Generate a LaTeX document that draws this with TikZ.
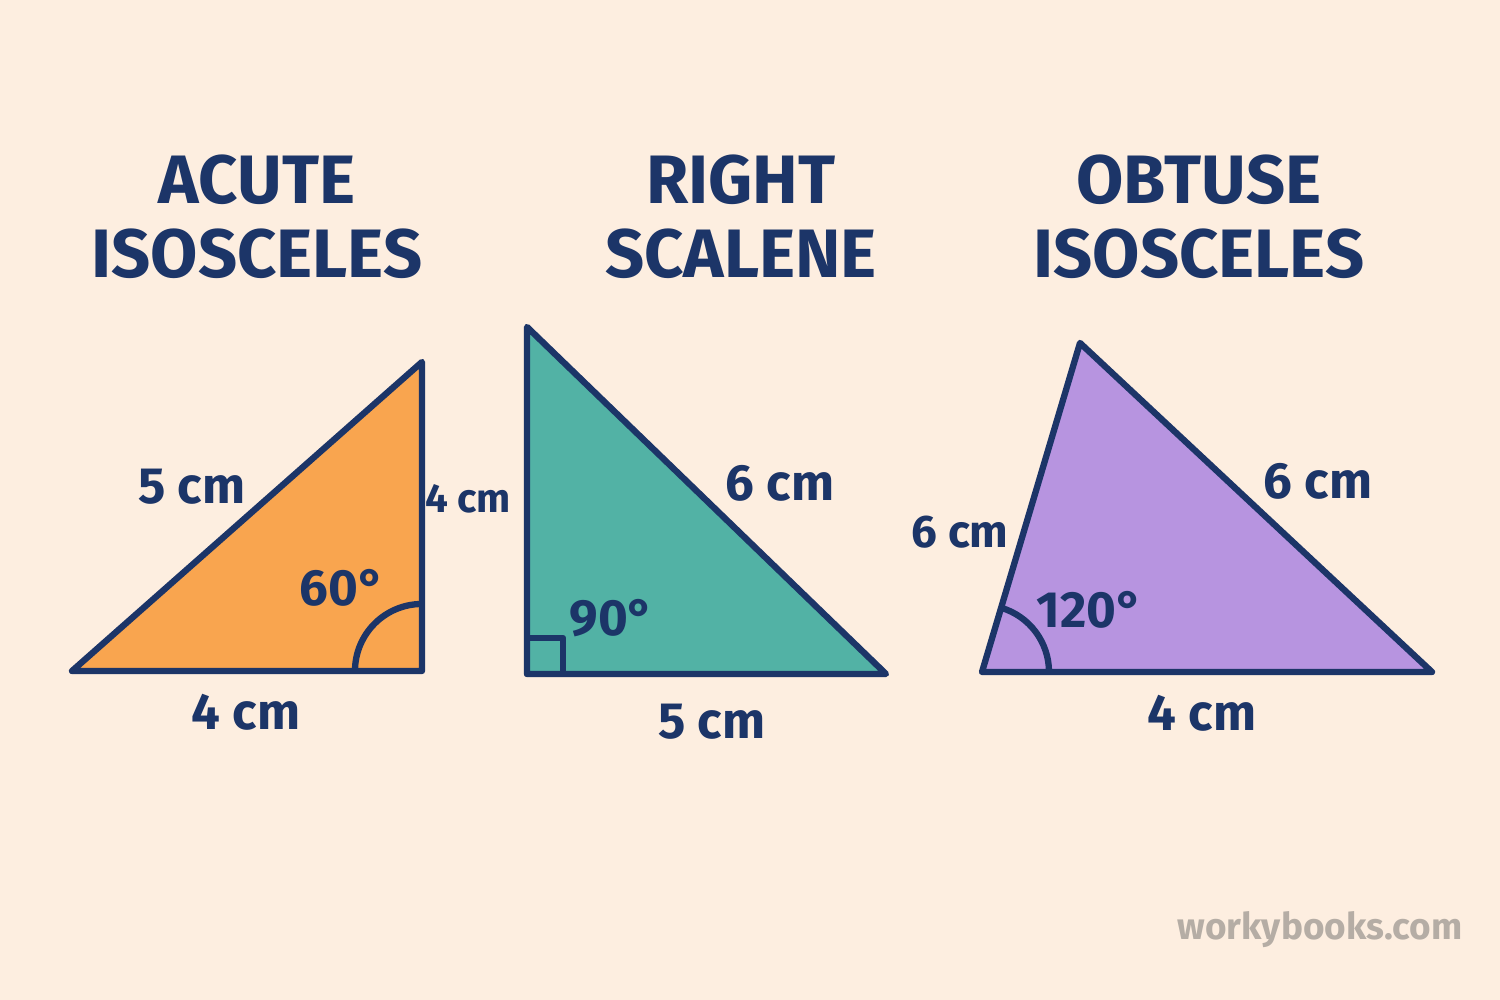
\documentclass[tikz,border=0pt]{standalone}
\usepackage{fontspec}
\setmainfont{Fira Sans}
\definecolor{bgcream}{HTML}{FDEEE0}
\definecolor{inkblue}{HTML}{1C3568}
\definecolor{acuteorange}{HTML}{F9A54F}
\definecolor{rightteal}{HTML}{52B2A5}
\definecolor{obtusepurple}{HTML}{B794E0}
\definecolor{markgray}{HTML}{B5ADA5}
\tikzset{
  shape edge/.style = {draw=inkblue, line width=1.8pt, line join=round},
  title/.style      = {text=inkblue, font=\fontsize{19.5}{23}\selectfont\bfseries, align=center},
  measure/.style    = {text=inkblue, font=\fontsize{14.5}{17}\selectfont\bfseries},
}
\begin{document}
\begin{tikzpicture}
  \fill[bgcream] (0,0) rectangle (15,10);
  \useasboundingbox (0,0) rectangle (15,10);
  % vertices
  \coordinate (a1) at (0.72,3.29);
  \coordinate (b1) at (4.22,3.29);
  \coordinate (c1) at (4.22,6.38);
  \coordinate (a2) at (5.27,6.73);
  \coordinate (b2) at (5.27,3.26);
  \coordinate (c2) at (8.86,3.26);
  \coordinate (a3) at (9.82,3.28);
  \coordinate (b3) at (14.32,3.28);
  \coordinate (c3) at (10.80,6.57);
  % triangles
  \filldraw[shape edge, fill=acuteorange]  (a1) -- (b1) -- (c1) -- cycle;
  \filldraw[shape edge, fill=rightteal]    (a2) -- (b2) -- (c2) -- cycle;
  \filldraw[shape edge, fill=obtusepurple] (a3) -- (b3) -- (c3) -- cycle;
  % angle marks
  \draw[shape edge] (b1) ++(180:0.67) arc (180:90:0.67);
  \draw[shape edge] (b2) rectangle ++(0.36,0.36);
  \draw[shape edge] (a3) ++(0:0.67) arc (0:73.4:0.67);
  % titles
  \node[title] (acute)  at (2.57,7.83) {ACUTE\\[-2pt]ISOSCELES};
  \node[title] (right)  at (7.41,7.83) {RIGHT\\[-2pt]SCALENE};
  \node[title] (obtuse) at (11.99,7.83) {OBTUSE\\[-2pt]ISOSCELES};
  % measures
  \node[measure] (hyp1)  at (1.92,5.13) {5 cm};
  \node[measure, font=\fontsize{11.5}{14}\selectfont\bfseries] (side1) at (4.68,5.01) {4 cm};
  \node[measure] (base1) at (2.46,2.88) {4 cm};
  \node[measure] (ang1)  at (3.42,4.12) {60°};
  \node[measure] (hyp2)  at (7.80,5.17) {6 cm};
  \node[measure] (ang2)  at (6.12,3.82) {90°};
  \node[measure] (base2) at (7.12,2.78) {5 cm};
  \node[measure, font=\fontsize{13}{16}\selectfont\bfseries] (side3) at (9.60,4.68) {6 cm};
  \node[measure] (long3) at (13.18,5.19) {6 cm};
  \node[measure] (ang3)  at (10.90,3.90) {120°};
  \node[measure] (base3) at (12.02,2.87) {4 cm};
  % watermark
  \node[text=markgray, font=\fontsize{10.5}{13}\selectfont\bfseries] (brand) at (13.20,0.70) {workybooks.com};
\end{tikzpicture}
\end{document}
